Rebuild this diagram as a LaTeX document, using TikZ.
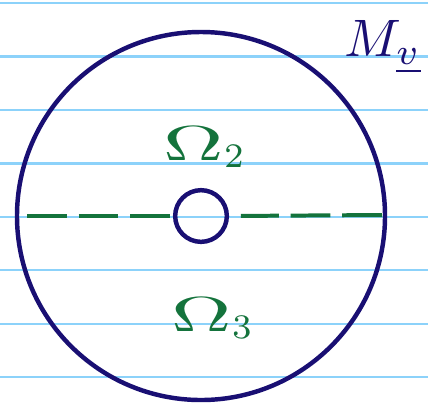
\documentclass[tikz,border=0pt]{standalone}
\usepackage{amsmath,amssymb}
\usepackage{xcolor}
\usepackage{tikz}

\definecolor{ruleblue}{RGB}{140,210,250}
\definecolor{penblue}{RGB}{25,15,115}
\definecolor{pengreen}{RGB}{20,115,60}

\tikzset{
  ruled/.style={ruleblue, line width=2pt},
  penline/.style={penblue, line width=3.8pt},
  cutline/.style={pengreen, line width=3.4pt, dash pattern=on 34pt off 10pt},
  region/.style={pengreen}
}
\newcommand{\regionlabel}[1]{\scalebox{4.2}{$\scalebox{1.7}[1]{$\Omega$}_{#1}$}}

\begin{document}
\begin{tikzpicture}[x=0.03cm, y=-0.03cm]
  \useasboundingbox (0,0) rectangle (428,406);
  \foreach \i in {0,...,7}
    \draw[ruled] (0,3+53.45*\i) -- (428,3+53.45*\i);

  \coordinate (o) at (201,216);
  \draw[penline] (o) circle (5.52cm);
  \node[penline, draw, circle, inner sep=0pt, minimum size=1.55cm] (hole) at (o) {};

  \coordinate (l) at (27,216);
  \coordinate (r) at (382,215);
  \draw[cutline] (l) -- (hole.west);
  \draw[cutline, shorten >=10pt] (r) -- (hole.east);

  \node[region] (upper) at (205,147) {\regionlabel{2}};
  \node[region] (lower) at (213,318) {\regionlabel{3}};
  \node[penblue] (mv) at (383,47) {\scalebox{4.5}{$M_{\underline{v}}$}};
\end{tikzpicture}
\end{document}
